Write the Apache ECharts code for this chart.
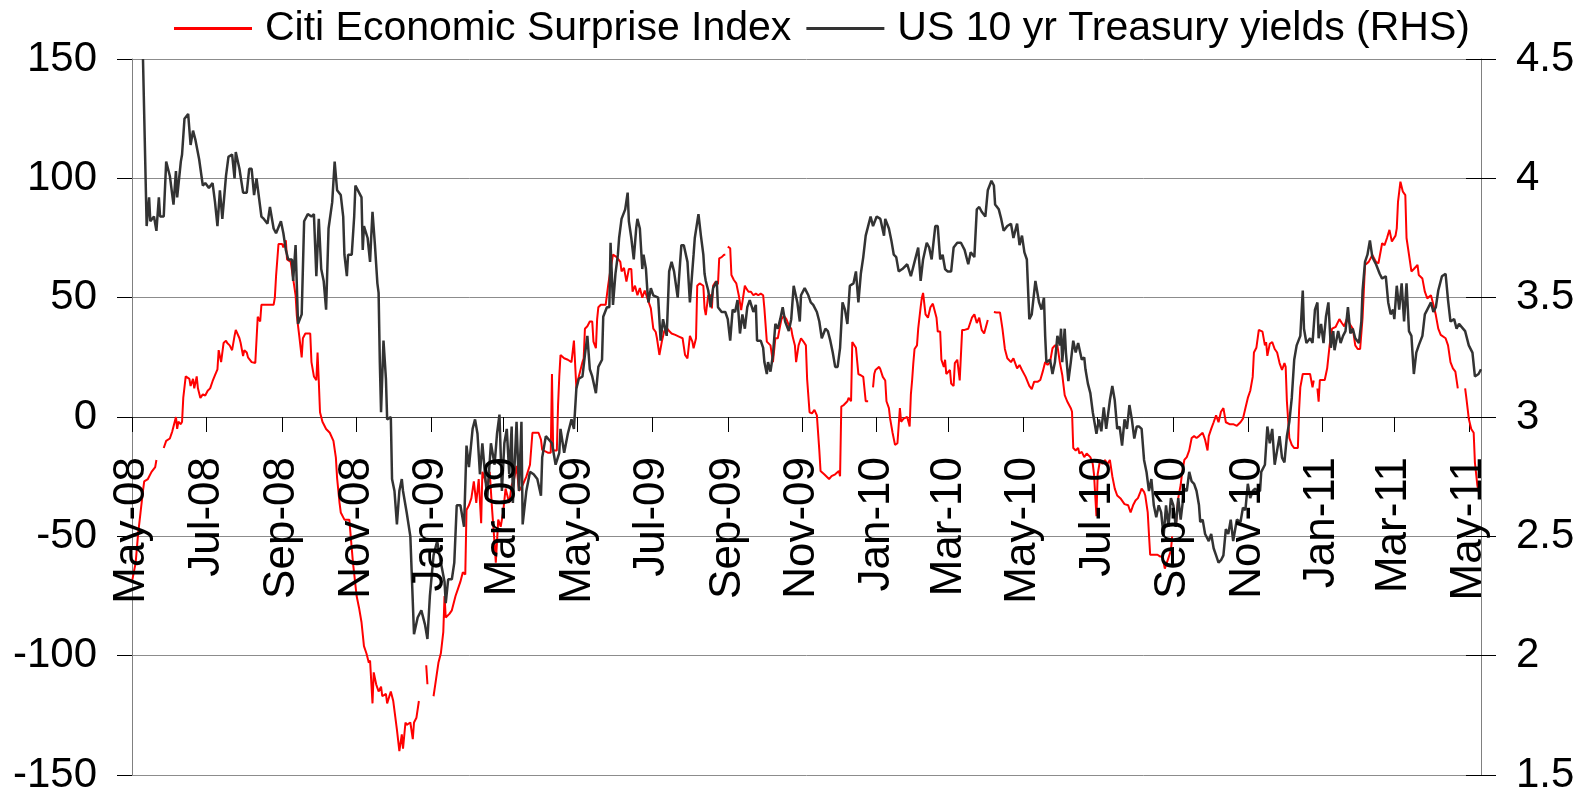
<!DOCTYPE html>
<html>
<head>
<meta charset="utf-8">
<script src="https://cdn.jsdelivr.net/npm/echarts@6.0.0/dist/echarts.min.js"></script>
<style>
  html, body { margin: 0; padding: 0; background: #fff; }
  #chart { width: 1588px; height: 796px; }
</style>
</head>
<body>
<div id="chart"></div>
<script>
var FONT = '"Liberation Sans", Arial, sans-serif';

// month names for tick labels (May-08, Jul-08 ...)
var monthNames = ['Jan', 'Feb', 'Mar', 'Apr', 'May', 'Jun', 'Jul', 'Aug', 'Sep', 'Oct', 'Nov', 'Dec'];
var firstDay = '2008-05-01';
var lastDay = '2011-05-11';

// Citi Economic Surprise Index (LHS), null = gap in the line
var citiData = [
  ['2008-05-01', -69], ['2008-05-04', -61], ['2008-05-06', -49], ['2008-05-08', -40], ['2008-05-10', -31],
  ['2008-05-11', -27], ['2008-05-14', -26], ['2008-05-17', -23], ['2008-05-20', -21], ['2008-05-21', -18],
  ['2008-05-23', null], ['2008-05-27', -13], ['2008-05-29', -10], ['2008-06-01', -9], ['2008-06-03', -6],
  ['2008-06-05', -2], ['2008-06-06', 0], ['2008-06-07', -5], ['2008-06-08', -2], ['2008-06-10', -3],
  ['2008-06-11', -2], ['2008-06-12', 8], ['2008-06-14', 17], ['2008-06-17', 16], ['2008-06-18', 13],
  ['2008-06-20', 16], ['2008-06-21', 12], ['2008-06-23', 17], ['2008-06-24', 12], ['2008-06-26', 8],
  ['2008-06-28', 9.5], ['2008-06-30', 9], ['2008-07-02', 11], ['2008-07-04', 12], ['2008-07-06', 15],
  ['2008-07-08', 17.5], ['2008-07-10', 20], ['2008-07-11', 28], ['2008-07-13', 23], ['2008-07-15', 31],
  ['2008-07-17', 32], ['2008-07-18', 31], ['2008-07-20', 30], ['2008-07-22', 28], ['2008-07-24', 34],
  ['2008-07-25', 36.5], ['2008-07-28', 33], ['2008-07-29', 31], ['2008-07-31', 25.5], ['2008-08-01', 28],
  ['2008-08-03', 27], ['2008-08-04', 25], ['2008-08-07', 23], ['2008-08-10', 22.6], ['2008-08-11', 22],
  ['2008-08-12', 42], ['2008-08-14', 40], ['2008-08-15', 47], ['2008-08-20', 47], ['2008-08-25', 47],
  ['2008-08-26', 50], ['2008-08-27', 59], ['2008-08-29', 72.5], ['2008-09-01', 72.5], ['2008-09-02', 71],
  ['2008-09-04', 74], ['2008-09-05', 66], ['2008-09-08', 65], ['2008-09-10', 58], ['2008-09-12', 51],
  ['2008-09-13', 42.5], ['2008-09-15', 34], ['2008-09-17', 25], ['2008-09-18', 33], ['2008-09-20', 35],
  ['2008-09-24', 35], ['2008-09-25', 23], ['2008-09-27', 17], ['2008-09-29', 15.4], ['2008-09-30', 27],
  ['2008-10-01', 15], ['2008-10-02', 2], ['2008-10-03', 1.5], ['2008-10-04', -2], ['2008-10-07', -5],
  ['2008-10-10', -6.6], ['2008-10-13', -10], ['2008-10-15', -17], ['2008-10-16', -25.6], ['2008-10-18', -36],
  ['2008-10-19', -40], ['2008-10-22', -43], ['2008-10-26', -43], ['2008-10-29', -61], ['2008-11-01', -75],
  ['2008-11-03', -80], ['2008-11-05', -86], ['2008-11-07', -96], ['2008-11-09', -99], ['2008-11-11', -103],
  ['2008-11-12', -102], ['2008-11-14', -120], ['2008-11-15', -107], ['2008-11-17', -112], ['2008-11-19', -115],
  ['2008-11-21', -113], ['2008-11-22', -117], ['2008-11-25', -116], ['2008-11-26', -120], ['2008-11-29', -115],
  ['2008-12-01', -119], ['2008-12-02', -119], ['2008-12-04', -131], ['2008-12-06', -140], ['2008-12-08', -133],
  ['2008-12-09', -139], ['2008-12-11', -128], ['2008-12-12', -129], ['2008-12-15', -128], ['2008-12-17', -135],
  ['2008-12-18', -128], ['2008-12-20', -126], ['2008-12-22', -119], ['2008-12-25', null], ['2008-12-28', -104],
  ['2008-12-29', -112], ['2008-12-31', null], ['2009-01-03', -117], ['2009-01-05', -110], ['2009-01-07', -103],
  ['2009-01-09', -99], ['2009-01-11', -90], ['2009-01-12', -75], ['2009-01-13', -84], ['2009-01-16', -82.5],
  ['2009-01-18', -81], ['2009-01-21', -75], ['2009-01-23', -72], ['2009-01-25', -69], ['2009-01-27', -65],
  ['2009-01-29', -66], ['2009-01-30', -39], ['2009-02-01', -37], ['2009-02-03', -34], ['2009-02-05', -27],
  ['2009-02-07', -36], ['2009-02-09', -26], ['2009-02-11', -44.5], ['2009-02-12', -23], ['2009-02-14', -26],
  ['2009-02-16', -30], ['2009-02-18', -23], ['2009-02-20', -39], ['2009-02-22', -53], ['2009-02-23', -61],
  ['2009-02-25', -43], ['2009-02-27', -46], ['2009-03-01', -40], ['2009-03-03', -30], ['2009-03-06', -36],
  ['2009-03-08', -28.5], ['2009-03-10', -26], ['2009-03-12', -20.5], ['2009-03-14', -31], ['2009-03-17', -28.5],
  ['2009-03-20', -25], ['2009-03-23', -20], ['2009-03-25', -6.6], ['2009-03-28', -6.6], ['2009-03-30', -6.6],
  ['2009-04-01', -9.5], ['2009-04-02', -13.8], ['2009-04-05', -14.5], ['2009-04-07', -15], ['2009-04-09', -15],
  ['2009-04-10', 18], ['2009-04-11', -14], ['2009-04-14', -14], ['2009-04-15', 5], ['2009-04-16', 17],
  ['2009-04-17', 26], ['2009-04-20', 24.6], ['2009-04-23', 24], ['2009-04-26', 23], ['2009-04-28', 32],
  ['2009-04-30', 12], ['2009-05-01', 15], ['2009-05-03', 19], ['2009-05-05', 23], ['2009-05-06', 24.6],
  ['2009-05-07', 37], ['2009-05-09', 38], ['2009-05-11', 40], ['2009-05-13', 40], ['2009-05-14', 31.6],
  ['2009-05-16', 28.8], ['2009-05-17', 41], ['2009-05-18', 46], ['2009-05-20', 47], ['2009-05-24', 47],
  ['2009-05-26', 55], ['2009-05-28', 62], ['2009-05-30', 68], ['2009-06-02', 67], ['2009-06-05', 65],
  ['2009-06-06', 61], ['2009-06-08', 62.5], ['2009-06-10', 56.7], ['2009-06-12', 62], ['2009-06-14', 62],
  ['2009-06-15', 52.5], ['2009-06-17', 55], ['2009-06-19', 51], ['2009-06-21', 54], ['2009-06-23', 50],
  ['2009-06-25', 53], ['2009-06-27', 50], ['2009-06-30', 45.5], ['2009-07-02', 37], ['2009-07-04', 35.6],
  ['2009-07-05', 33], ['2009-07-07', 26], ['2009-07-09', 31.6], ['2009-07-11', 36], ['2009-07-13', 37.4],
  ['2009-07-15', 36], ['2009-07-17', 35], ['2009-07-20', 34.4], ['2009-07-23', 33.7], ['2009-07-26', 33],
  ['2009-07-28', 26], ['2009-07-30', 24.6], ['2009-08-01', 34], ['2009-08-03', 31.6], ['2009-08-04', 28.8],
  ['2009-08-06', 33], ['2009-08-07', 55], ['2009-08-09', 56], ['2009-08-12', 55], ['2009-08-13', 45.5],
  ['2009-08-14', 42.7], ['2009-08-16', 51], ['2009-08-18', 51], ['2009-08-19', 45.5], ['2009-08-20', 55],
  ['2009-08-22', 56.7], ['2009-08-24', 55.6], ['2009-08-25', 66.5], ['2009-08-27', 67], ['2009-08-29', 68],
  ['2009-08-30', 68], ['2009-08-31', null], ['2009-09-01', 71.4], ['2009-09-03', 70.7], ['2009-09-04', 59.5],
  ['2009-09-06', 57.4], ['2009-09-08', 56], ['2009-09-10', 51], ['2009-09-12', 44.8], ['2009-09-13', 44.8],
  ['2009-09-15', 55], ['2009-09-16', 54], ['2009-09-18', 52.5], ['2009-09-20', 52.5], ['2009-09-22', 51],
  ['2009-09-24', 51.7], ['2009-09-26', 51], ['2009-09-28', 51.7], ['2009-09-30', 51], ['2009-10-01', 45.5],
  ['2009-10-03', 31.6], ['2009-10-04', 31.6], ['2009-10-06', 30], ['2009-10-08', 23], ['2009-10-10', 33],
  ['2009-10-12', 33], ['2009-10-14', 38.5], ['2009-10-15', 41], ['2009-10-17', 42.4], ['2009-10-19', 41],
  ['2009-10-21', 38.5], ['2009-10-23', 37], ['2009-10-24', 34], ['2009-10-26', 30], ['2009-10-27', 23],
  ['2009-10-29', 30], ['2009-10-31', 33], ['2009-11-02', 31.6], ['2009-11-04', 30], ['2009-11-05', 16],
  ['2009-11-07', 2], ['2009-11-09', 1.5], ['2009-11-11', 3], ['2009-11-13', 0.7], ['2009-11-15', -14],
  ['2009-11-16', -22.6], ['2009-11-19', -24], ['2009-11-23', -26], ['2009-11-25', -24.8], ['2009-11-28', -24],
  ['2009-12-01', -22.6], ['2009-12-02', -24.8], ['2009-12-03', 4.4], ['2009-12-05', 5], ['2009-12-08', 6.6],
  ['2009-12-09', 8], ['2009-12-11', 6.6], ['2009-12-12', 31.4], ['2009-12-15', 29], ['2009-12-16', 28.5],
  ['2009-12-17', 18], ['2009-12-19', 17.5], ['2009-12-20', 18], ['2009-12-21', 16.8], ['2009-12-23', 6.6],
  ['2009-12-24', 5.8], ['2009-12-25', 6.6], ['2009-12-27', null], ['2009-12-29', 12.4], ['2009-12-30', 18],
  ['2009-12-31', 19.7], ['2010-01-03', 21], ['2010-01-04', 20], ['2010-01-06', 16.8], ['2010-01-08', 15.3],
  ['2010-01-09', 6.6], ['2010-01-11', 3.7], ['2010-01-12', -0.7], ['2010-01-14', -6.6], ['2010-01-16', -11.7],
  ['2010-01-18', -11], ['2010-01-20', 3.7], ['2010-01-21', -2], ['2010-01-23', -0.7], ['2010-01-26', 0],
  ['2010-01-27', -0.7], ['2010-01-28', -4], ['2010-01-29', 9.5], ['2010-01-30', 15.3], ['2010-01-31', 22.6],
  ['2010-02-01', 28.5], ['2010-02-03', 30], ['2010-02-04', 37], ['2010-02-06', 46], ['2010-02-07', 50],
  ['2010-02-08', 52], ['2010-02-10', 43], ['2010-02-12', 41.6], ['2010-02-14', 46], ['2010-02-16', 47.5],
  ['2010-02-19', 41.6], ['2010-02-20', 35.8], ['2010-02-22', 35.8], ['2010-02-23', 24], ['2010-02-25', 21],
  ['2010-02-26', 24], ['2010-02-27', 18], ['2010-03-02', 19.7], ['2010-03-03', 14], ['2010-03-05', 13],
  ['2010-03-06', 22.6], ['2010-03-08', 24], ['2010-03-10', 15.3], ['2010-03-12', 36.5], ['2010-03-14', 36.5],
  ['2010-03-17', 37], ['2010-03-20', 41.6], ['2010-03-22', 43], ['2010-03-24', 39.4], ['2010-03-26', 41.6],
  ['2010-03-28', 36.5], ['2010-03-30', 35], ['2010-03-31', 35.8], ['2010-04-02', 40.6], ['2010-04-04', null],
  ['2010-04-07', 44], ['2010-04-09', 43.8], ['2010-04-12', 43.8], ['2010-04-14', 37], ['2010-04-16', 28.5],
  ['2010-04-18', 24.6], ['2010-04-21', 23], ['2010-04-23', 24.6], ['2010-04-26', 20.4], ['2010-04-28', 21.8],
  ['2010-04-30', 19.7], ['2010-05-03', 16.8], ['2010-05-06', 13], ['2010-05-08', 11.7], ['2010-05-10', 14.8],
  ['2010-05-13', 14.8], ['2010-05-15', 15.5], ['2010-05-17', 19], ['2010-05-19', 23], ['2010-05-21', 21.8],
  ['2010-05-23', 23], ['2010-05-25', 28.8], ['2010-05-27', 30], ['2010-05-29', 30], ['2010-05-31', 23],
  ['2010-06-02', 17.6], ['2010-06-04', 9.2], ['2010-06-06', 6.6], ['2010-06-09', 3.7], ['2010-06-10', 2.2],
  ['2010-06-11', -13], ['2010-06-13', -14], ['2010-06-15', -13], ['2010-06-16', -15.3], ['2010-06-18', -14.6],
  ['2010-06-20', -16.8], ['2010-06-22', -15.3], ['2010-06-25', -16.8], ['2010-06-27', -19.7], ['2010-06-28', -24],
  ['2010-06-30', -41.6], ['2010-07-01', -24], ['2010-07-03', -18], ['2010-07-05', -19.7], ['2010-07-07', -18],
  ['2010-07-09', -19.7], ['2010-07-11', -18], ['2010-07-13', -24.8], ['2010-07-15', -30], ['2010-07-17', -32.9],
  ['2010-07-20', -34.3], ['2010-07-23', -36.5], ['2010-07-26', -37], ['2010-07-28', -40], ['2010-07-30', -37],
  ['2010-08-01', -35], ['2010-08-03', -34], ['2010-08-05', -31.4], ['2010-08-06', -30], ['2010-08-08', -31.4],
  ['2010-08-09', -32.9], ['2010-08-11', -40], ['2010-08-12', -49], ['2010-08-13', -57.7], ['2010-08-16', -57.7],
  ['2010-08-19', -57.7], ['2010-08-21', -58.4], ['2010-08-23', -58.4], ['2010-08-25', -63.5], ['2010-08-26', -62.8],
  ['2010-08-28', -59], ['2010-08-30', -56], ['2010-08-31', -50], ['2010-09-02', null], ['2010-09-03', -46],
  ['2010-09-04', -40], ['2010-09-05', -34], ['2010-09-07', -28.5], ['2010-09-08', -24], ['2010-09-10', -18],
  ['2010-09-12', -16.8], ['2010-09-14', -14], ['2010-09-16', -8.8], ['2010-09-18', -8], ['2010-09-20', -8.8],
  ['2010-09-22', -8], ['2010-09-23', -8.8], ['2010-09-25', -6.6], ['2010-09-27', -9.5], ['2010-09-29', -14],
  ['2010-09-30', -8], ['2010-10-02', -5], ['2010-10-04', -2.2], ['2010-10-06', 0.7], ['2010-10-08', -2.2],
  ['2010-10-10', 2.2], ['2010-10-12', 3.7], ['2010-10-14', -2.2], ['2010-10-17', -3], ['2010-10-20', -3],
  ['2010-10-23', -3.7], ['2010-10-26', -2.2], ['2010-10-28', -0.7], ['2010-10-30', 3.7], ['2010-11-01', 8],
  ['2010-11-03', 11], ['2010-11-05', 16.8], ['2010-11-06', 27], ['2010-11-08', 29], ['2010-11-10', 36.5],
  ['2010-11-13', 35.8], ['2010-11-15', 30], ['2010-11-16', 31.4], ['2010-11-17', 25.6], ['2010-11-19', 30.7],
  ['2010-11-21', 31.4], ['2010-11-23', 28.5], ['2010-11-25', 27], ['2010-11-27', 22.6], ['2010-11-29', 19.7],
  ['2010-12-01', 22.6], ['2010-12-02', 21], ['2010-12-03', 6.6], ['2010-12-05', -8.8], ['2010-12-07', -11.7],
  ['2010-12-09', -13], ['2010-12-12', -13], ['2010-12-13', 3], ['2010-12-14', 12.4], ['2010-12-16', 18],
  ['2010-12-19', 18], ['2010-12-22', 18], ['2010-12-24', 12.4], ['2010-12-25', 15.3], ['2010-12-27', null],
  ['2010-12-28', 12], ['2010-12-29', 6.4], ['2010-12-30', 15.5], ['2011-01-03', 15.5], ['2011-01-05', 20.4],
  ['2011-01-07', 30], ['2011-01-09', 37], ['2011-01-12', 37.8], ['2011-01-15', 41], ['2011-01-17', 39.4],
  ['2011-01-19', 38], ['2011-01-21', 41], ['2011-01-23', 39.4], ['2011-01-26', 37], ['2011-01-28', 30],
  ['2011-01-30', 28.5], ['2011-02-01', 28.5], ['2011-02-03', 41.6], ['2011-02-05', 63.7], ['2011-02-08', 65],
  ['2011-02-11', 67.9], ['2011-02-14', 65], ['2011-02-16', 64.4], ['2011-02-19', 72.8], ['2011-02-21', 72],
  ['2011-02-23', 75], ['2011-02-25', 78.4], ['2011-02-27', 73.5], ['2011-03-02', 76], ['2011-03-03', 79],
  ['2011-03-04', 90], ['2011-03-06', 98.6], ['2011-03-08', 94.4], ['2011-03-10', 93], ['2011-03-11', 75],
  ['2011-03-13', 68], ['2011-03-15', 61], ['2011-03-17', 62], ['2011-03-20', 63.7], ['2011-03-21', 59.5],
  ['2011-03-24', 58], ['2011-03-26', 52.5], ['2011-03-28', 49.7], ['2011-03-31', 51], ['2011-04-02', 47],
  ['2011-04-04', 42.7], ['2011-04-06', 37], ['2011-04-08', 34.4], ['2011-04-12', 33], ['2011-04-14', 30],
  ['2011-04-16', 23], ['2011-04-18', 20.4], ['2011-04-20', 19], ['2011-04-22', 12], ['2011-04-25', null],
  ['2011-04-28', 12], ['2011-04-29', 8], ['2011-05-01', -0.7], ['2011-05-03', -5], ['2011-05-05', -6.6],
  ['2011-05-06', -19], ['2011-05-08', -28.5], ['2011-05-09', -31.4], ['2011-05-10', -31.4]
];

// US 10 yr Treasury yields, % (RHS)
var yieldData = [
  ['2008-05-10', 4.50], ['2008-05-13', 3.80], ['2008-05-15', 3.92], ['2008-05-16', 3.82], ['2008-05-19', 3.84],
  ['2008-05-21', 3.78], ['2008-05-23', 3.92], ['2008-05-24', 3.84], ['2008-05-27', 3.84], ['2008-05-29', 4.07],
  ['2008-06-01', 4.01], ['2008-06-04', 3.89], ['2008-06-06', 4.03], ['2008-06-07', 3.92], ['2008-06-10', 4.07],
  ['2008-06-11', 4.10], ['2008-06-13', 4.25], ['2008-06-16', 4.27], ['2008-06-18', 4.14], ['2008-06-20', 4.20],
  ['2008-06-22', 4.16], ['2008-06-25', 4.08], ['2008-06-28', 3.97], ['2008-06-30', 3.98], ['2008-07-03', 3.96],
  ['2008-07-06', 3.98], ['2008-07-08', 3.90], ['2008-07-10', 3.80], ['2008-07-12', 3.95], ['2008-07-14', 3.83],
  ['2008-07-17', 4.01], ['2008-07-19', 4.09], ['2008-07-22', 4.10], ['2008-07-24', 4.00], ['2008-07-25', 4.11],
  ['2008-07-28', 4.04], ['2008-07-31', 3.94], ['2008-08-03', 3.94], ['2008-08-05', 4.04], ['2008-08-07', 4.04],
  ['2008-08-09', 3.93], ['2008-08-11', 4.00], ['2008-08-13', 3.92], ['2008-08-15', 3.84], ['2008-08-17', 3.83],
  ['2008-08-20', 3.81], ['2008-08-22', 3.88], ['2008-08-25', 3.79], ['2008-08-27', 3.77], ['2008-08-31', 3.82],
  ['2008-09-02', 3.77], ['2008-09-04', 3.70], ['2008-09-06', 3.66], ['2008-09-09', 3.66], ['2008-09-10', 3.57],
  ['2008-09-12', 3.72], ['2008-09-14', 3.39], ['2008-09-17', 3.43], ['2008-09-19', 3.82], ['2008-09-22', 3.85],
  ['2008-09-25', 3.84], ['2008-09-27', 3.85], ['2008-09-29', 3.59], ['2008-10-01', 3.83], ['2008-10-03', 3.62],
  ['2008-10-05', 3.57], ['2008-10-07', 3.45], ['2008-10-09', 3.79], ['2008-10-12', 3.90], ['2008-10-14', 4.07],
  ['2008-10-16', 3.95], ['2008-10-19', 3.93], ['2008-10-21', 3.84], ['2008-10-22', 3.68], ['2008-10-24', 3.59],
  ['2008-10-25', 3.68], ['2008-10-28', 3.68], ['2008-10-30', 3.84], ['2008-10-31', 3.97], ['2008-11-03', 3.94],
  ['2008-11-05', 3.92], ['2008-11-06', 3.70], ['2008-11-07', 3.80], ['2008-11-10', 3.75], ['2008-11-12', 3.65],
  ['2008-11-13', 3.76], ['2008-11-14', 3.86], ['2008-11-16', 3.72], ['2008-11-18', 3.56], ['2008-11-19', 3.52],
  ['2008-11-20', 3.23], ['2008-11-21', 3.02], ['2008-11-23', 3.32], ['2008-11-25', 3.16], ['2008-11-26', 2.99],
  ['2008-11-29', 3.00], ['2008-11-30', 2.74], ['2008-12-02', 2.69], ['2008-12-04', 2.55], ['2008-12-06', 2.69],
  ['2008-12-08', 2.74], ['2008-12-09', 2.69], ['2008-12-12', 2.60], ['2008-12-15', 2.50], ['2008-12-18', 2.09],
  ['2008-12-21', 2.16], ['2008-12-24', 2.19], ['2008-12-27', 2.13], ['2008-12-29', 2.07], ['2008-12-31', 2.25],
  ['2009-01-03', 2.42], ['2009-01-06', 2.48], ['2009-01-09', 2.39], ['2009-01-12', 2.31], ['2009-01-13', 2.22],
  ['2009-01-15', 2.32], ['2009-01-18', 2.32], ['2009-01-20', 2.39], ['2009-01-22', 2.63], ['2009-01-25', 2.63],
  ['2009-01-28', 2.54], ['2009-01-30', 2.88], ['2009-02-01', 2.79], ['2009-02-04', 2.95], ['2009-02-06', 2.99],
  ['2009-02-08', 2.93], ['2009-02-10', 2.76], ['2009-02-12', 2.89], ['2009-02-14', 2.77], ['2009-02-16', 2.66],
  ['2009-02-19', 2.89], ['2009-02-22', 2.80], ['2009-02-24', 2.93], ['2009-02-26', 3.01], ['2009-02-28', 2.69],
  ['2009-03-02', 2.89], ['2009-03-04', 2.95], ['2009-03-06', 2.76], ['2009-03-08', 2.96], ['2009-03-09', 2.64],
  ['2009-03-12', 2.98], ['2009-03-14', 2.69], ['2009-03-16', 2.98], ['2009-03-17', 2.55], ['2009-03-20', 2.69],
  ['2009-03-23', 2.77], ['2009-03-26', 2.76], ['2009-03-29', 2.74], ['2009-04-01', 2.67], ['2009-04-02', 2.83],
  ['2009-04-05', 2.92], ['2009-04-10', 2.89], ['2009-04-13', 2.80], ['2009-04-16', 2.85], ['2009-04-17', 2.95],
  ['2009-04-20', 2.85], ['2009-04-23', 2.93], ['2009-04-26', 2.99], ['2009-04-28', 2.95], ['2009-04-30', 3.12],
  ['2009-05-02', 3.16], ['2009-05-05', 3.17], ['2009-05-07', 3.26], ['2009-05-09', 3.34], ['2009-05-11', 3.20],
  ['2009-05-13', 3.17], ['2009-05-16', 3.10], ['2009-05-18', 3.21], ['2009-05-21', 3.24], ['2009-05-22', 3.42],
  ['2009-05-25', 3.46], ['2009-05-27', 3.46], ['2009-05-28', 3.73], ['2009-05-30', 3.47], ['2009-06-01', 3.60],
  ['2009-06-03', 3.68], ['2009-06-04', 3.75], ['2009-06-06', 3.83], ['2009-06-09', 3.87], ['2009-06-11', 3.94],
  ['2009-06-12', 3.82], ['2009-06-14', 3.75], ['2009-06-16', 3.66], ['2009-06-18', 3.79], ['2009-06-19', 3.83],
  ['2009-06-21', 3.79], ['2009-06-23', 3.62], ['2009-06-24', 3.68], ['2009-06-26', 3.62], ['2009-06-27', 3.54],
  ['2009-06-28', 3.48], ['2009-06-30', 3.54], ['2009-07-02', 3.51], ['2009-07-06', 3.50], ['2009-07-08', 3.32],
  ['2009-07-10', 3.41], ['2009-07-13', 3.34], ['2009-07-15', 3.61], ['2009-07-17', 3.65], ['2009-07-19', 3.61],
  ['2009-07-22', 3.50], ['2009-07-24', 3.65], ['2009-07-25', 3.72], ['2009-07-27', 3.72], ['2009-07-30', 3.65],
  ['2009-08-01', 3.48], ['2009-08-04', 3.68], ['2009-08-05', 3.75], ['2009-08-08', 3.85], ['2009-08-10', 3.76],
  ['2009-08-12', 3.68], ['2009-08-13', 3.60], ['2009-08-14', 3.57], ['2009-08-16', 3.53], ['2009-08-18', 3.46],
  ['2009-08-20', 3.54], ['2009-08-23', 3.57], ['2009-08-24', 3.46], ['2009-08-27', 3.44], ['2009-08-30', 3.44],
  ['2009-09-01', 3.41], ['2009-09-03', 3.32], ['2009-09-05', 3.45], ['2009-09-07', 3.44], ['2009-09-09', 3.49],
  ['2009-09-11', 3.35], ['2009-09-13', 3.43], ['2009-09-15', 3.37], ['2009-09-17', 3.46], ['2009-09-19', 3.49],
  ['2009-09-22', 3.44], ['2009-09-24', 3.47], ['2009-09-25', 3.32], ['2009-09-28', 3.32], ['2009-09-30', 3.29],
  ['2009-10-01', 3.23], ['2009-10-03', 3.18], ['2009-10-04', 3.23], ['2009-10-06', 3.19], ['2009-10-08', 3.26],
  ['2009-10-10', 3.39], ['2009-10-12', 3.37], ['2009-10-14', 3.41], ['2009-10-16', 3.46], ['2009-10-18', 3.40],
  ['2009-10-21', 3.36], ['2009-10-23', 3.41], ['2009-10-25', 3.55], ['2009-10-28', 3.48], ['2009-10-30', 3.40],
  ['2009-10-31', 3.51], ['2009-11-03', 3.54], ['2009-11-05', 3.52], ['2009-11-06', 3.51], ['2009-11-08', 3.48],
  ['2009-11-10', 3.47], ['2009-11-13', 3.44], ['2009-11-15', 3.40], ['2009-11-17', 3.33], ['2009-11-20', 3.37],
  ['2009-11-22', 3.36], ['2009-11-24', 3.32], ['2009-11-26', 3.27], ['2009-11-28', 3.21], ['2009-11-30', 3.21],
  ['2009-12-02', 3.29], ['2009-12-04', 3.48], ['2009-12-06', 3.45], ['2009-12-08', 3.39], ['2009-12-10', 3.55],
  ['2009-12-13', 3.56], ['2009-12-15', 3.61], ['2009-12-17', 3.48], ['2009-12-19', 3.60], ['2009-12-21', 3.67],
  ['2009-12-23', 3.76], ['2009-12-25', 3.80], ['2009-12-27', 3.84], ['2009-12-29', 3.80], ['2010-01-01', 3.84],
  ['2010-01-04', 3.83], ['2010-01-07', 3.76], ['2010-01-08', 3.83], ['2010-01-11', 3.79], ['2010-01-13', 3.74],
  ['2010-01-15', 3.68], ['2010-01-17', 3.67], ['2010-01-19', 3.61], ['2010-01-22', 3.62], ['2010-01-26', 3.64],
  ['2010-01-29', 3.59], ['2010-02-01', 3.65], ['2010-02-04', 3.71], ['2010-02-06', 3.57], ['2010-02-08', 3.66],
  ['2010-02-11', 3.73], ['2010-02-13', 3.71], ['2010-02-15', 3.66], ['2010-02-18', 3.80], ['2010-02-20', 3.80],
  ['2010-02-22', 3.66], ['2010-02-24', 3.68], ['2010-02-26', 3.62], ['2010-02-28', 3.61], ['2010-03-03', 3.61],
  ['2010-03-05', 3.71], ['2010-03-08', 3.73], ['2010-03-11', 3.73], ['2010-03-14', 3.70], ['2010-03-17', 3.64],
  ['2010-03-19', 3.69], ['2010-03-22', 3.67], ['2010-03-24', 3.87], ['2010-03-26', 3.88], ['2010-03-28', 3.86],
  ['2010-03-31', 3.84], ['2010-04-02', 3.95], ['2010-04-05', 3.99], ['2010-04-07', 3.97], ['2010-04-08', 3.89],
  ['2010-04-11', 3.87], ['2010-04-13', 3.83], ['2010-04-15', 3.78], ['2010-04-18', 3.80], ['2010-04-21', 3.81],
  ['2010-04-23', 3.75], ['2010-04-26', 3.81], ['2010-04-28', 3.72], ['2010-04-30', 3.76], ['2010-05-02', 3.69],
  ['2010-05-04', 3.66], ['2010-05-06', 3.41], ['2010-05-08', 3.43], ['2010-05-11', 3.57], ['2010-05-14', 3.48],
  ['2010-05-16', 3.45], ['2010-05-18', 3.50], ['2010-05-19', 3.34], ['2010-05-20', 3.23], ['2010-05-23', 3.24],
  ['2010-05-25', 3.18], ['2010-05-27', 3.23], ['2010-05-29', 3.34], ['2010-05-31', 3.30], ['2010-06-01', 3.37],
  ['2010-06-02', 3.23], ['2010-06-04', 3.37], ['2010-06-05', 3.27], ['2010-06-07', 3.15], ['2010-06-09', 3.23],
  ['2010-06-11', 3.32], ['2010-06-13', 3.27], ['2010-06-15', 3.31], ['2010-06-18', 3.24], ['2010-06-20', 3.25],
  ['2010-06-21', 3.20], ['2010-06-23', 3.14], ['2010-06-25', 3.10], ['2010-06-27', 3.02], ['2010-06-30', 2.93],
  ['2010-07-02', 2.99], ['2010-07-04', 2.94], ['2010-07-06', 3.04], ['2010-07-08', 2.95], ['2010-07-11', 3.07],
  ['2010-07-13', 3.13], ['2010-07-15', 3.07], ['2010-07-17', 2.95], ['2010-07-19', 2.96], ['2010-07-21', 2.88],
  ['2010-07-23', 2.99], ['2010-07-25', 2.95], ['2010-07-27', 3.05], ['2010-07-29', 2.99], ['2010-07-31', 2.91],
  ['2010-08-02', 2.96], ['2010-08-04', 2.96], ['2010-08-06', 2.95], ['2010-08-08', 2.82], ['2010-08-10', 2.77],
  ['2010-08-12', 2.69], ['2010-08-14', 2.74], ['2010-08-16', 2.63], ['2010-08-18', 2.58], ['2010-08-20', 2.63],
  ['2010-08-22', 2.60], ['2010-08-24', 2.50], ['2010-08-26', 2.63], ['2010-08-28', 2.54], ['2010-08-30', 2.66],
  ['2010-09-01', 2.63], ['2010-09-03', 2.54], ['2010-09-05', 2.66], ['2010-09-07', 2.57], ['2010-09-10', 2.70],
  ['2010-09-12', 2.69], ['2010-09-14', 2.77], ['2010-09-16', 2.73], ['2010-09-18', 2.72], ['2010-09-20', 2.69],
  ['2010-09-22', 2.63], ['2010-09-23', 2.56], ['2010-09-25', 2.57], ['2010-09-27', 2.51], ['2010-09-30', 2.48],
  ['2010-10-02', 2.51], ['2010-10-04', 2.45], ['2010-10-06', 2.42], ['2010-10-08', 2.39], ['2010-10-10', 2.40],
  ['2010-10-12', 2.42], ['2010-10-14', 2.53], ['2010-10-16', 2.51], ['2010-10-18', 2.57], ['2010-10-20', 2.48],
  ['2010-10-22', 2.54], ['2010-10-23', 2.57], ['2010-10-26', 2.56], ['2010-10-28', 2.62], ['2010-10-30', 2.61],
  ['2010-11-01', 2.72], ['2010-11-03', 2.66], ['2010-11-05', 2.69], ['2010-11-07', 2.70], ['2010-11-09', 2.69],
  ['2010-11-11', 2.69], ['2010-11-12', 2.77], ['2010-11-15', 2.80], ['2010-11-17', 2.96], ['2010-11-19', 2.89],
  ['2010-11-21', 2.95], ['2010-11-23', 2.80], ['2010-11-25', 2.86], ['2010-11-27', 2.92], ['2010-11-29', 2.83],
  ['2010-12-01', 2.81], ['2010-12-03', 2.92], ['2010-12-05', 2.98], ['2010-12-07', 3.08], ['2010-12-09', 3.24],
  ['2010-12-11', 3.30], ['2010-12-14', 3.34], ['2010-12-16', 3.53], ['2010-12-17', 3.37], ['2010-12-19', 3.31],
  ['2010-12-22', 3.33], ['2010-12-24', 3.31], ['2010-12-26', 3.45], ['2010-12-28', 3.48], ['2010-12-29', 3.33],
  ['2010-12-31', 3.39], ['2011-01-02', 3.31], ['2011-01-04', 3.42], ['2011-01-06', 3.48], ['2011-01-08', 3.29],
  ['2011-01-10', 3.36], ['2011-01-11', 3.28], ['2011-01-14', 3.36], ['2011-01-16', 3.31], ['2011-01-18', 3.34],
  ['2011-01-20', 3.36], ['2011-01-22', 3.46], ['2011-01-24', 3.35], ['2011-01-26', 3.37], ['2011-01-28', 3.33],
  ['2011-01-31', 3.31], ['2011-02-02', 3.40], ['2011-02-03', 3.53], ['2011-02-05', 3.65], ['2011-02-07', 3.68],
  ['2011-02-09', 3.74], ['2011-02-11', 3.67], ['2011-02-14', 3.64], ['2011-02-17', 3.60], ['2011-02-19', 3.58],
  ['2011-02-22', 3.59], ['2011-02-24', 3.48], ['2011-02-26', 3.43], ['2011-02-28', 3.45], ['2011-03-01', 3.41],
  ['2011-03-03', 3.55], ['2011-03-05', 3.45], ['2011-03-07', 3.56], ['2011-03-09', 3.40], ['2011-03-11', 3.56],
  ['2011-03-13', 3.36], ['2011-03-15', 3.34], ['2011-03-17', 3.18], ['2011-03-19', 3.27], ['2011-03-21', 3.30],
  ['2011-03-24', 3.34], ['2011-03-26', 3.43], ['2011-03-28', 3.45], ['2011-03-31', 3.48], ['2011-04-02', 3.44],
  ['2011-04-04', 3.46], ['2011-04-06', 3.53], ['2011-04-09', 3.59], ['2011-04-12', 3.60], ['2011-04-13', 3.60],
  ['2011-04-14', 3.49], ['2011-04-16', 3.40], ['2011-04-19', 3.41], ['2011-04-21', 3.37], ['2011-04-23', 3.39],
  ['2011-04-28', 3.36], ['2011-05-01', 3.30], ['2011-05-04', 3.27], ['2011-05-06', 3.17], ['2011-05-09', 3.18],
  ['2011-05-11', 3.20]
];

// one category per calendar day (date axis)
var days = [];
var t0 = Date.parse(firstDay + 'T00:00:00Z');
var t1 = Date.parse(lastDay + 'T00:00:00Z');
for (var t = t0; t <= t1; t += 86400000) {
  days.push(new Date(t).toISOString().slice(0, 10));
}
var dayIndex = {};
days.forEach(function (d, i) { dayIndex[d] = i; });

function toSeries(list) {
  return list
    .map(function (p) { return [dayIndex[p[0]], p[1] === null ? '-' : p[1]]; })
    .sort(function (a, b) { return a[0] - b[0]; });
}

// tick + label on the 1st of every other month (Jan, Mar, May, Jul, Sep, Nov)
function isTickDay(index, value) {
  return String(value).slice(8) === '01' && (+String(value).slice(5, 7)) % 2 === 1;
}
function monthLabel(d) {
  return monthNames[+d.slice(5, 7) - 1] + '-' + d.slice(2, 4);
}

var chartDom = document.getElementById('chart');
var myChart = echarts.init(chartDom, null, { renderer: 'canvas' });
var option;

option = {
  animation: false,
  backgroundColor: '#fff',
  textStyle: { fontFamily: FONT },
  legend: {
    left: 174,
    top: 8,
    padding: 0,
    itemWidth: 78,
    itemHeight: 3,
    itemGap: 15,
    icon: 'rect',
    textStyle: {
      fontFamily: FONT,
      fontSize: 41,
      lineHeight: 41,
      color: '#000',
      padding: [0, 0, 0, 8]
    },
    data: ['Citi Economic Surprise Index', 'US 10 yr Treasury yields (RHS)']
  },
  grid: {
    left: 132,
    right: 107,
    top: 59,
    bottom: 21,
    containLabel: false,
    outerBoundsMode: 'none'
  },
  xAxis: {
    type: 'category',
    data: days,
    boundaryGap: false,
    axisLine: {
      onZero: true,
      onZeroAxisIndex: 0,
      lineStyle: { color: '#404040', width: 1 }
    },
    axisTick: {
      interval: isTickDay,
      length: 15,
      lineStyle: { color: '#000' }
    },
    // month labels are added below as rotated text at the tick positions
    axisLabel: { show: false },
    splitLine: { show: false }
  },
  yAxis: [
    {
      type: 'value',
      position: 'left',
      min: -150,
      max: 150,
      interval: 50,
      axisLine: { show: true, lineStyle: { color: '#808080' } },
      axisTick: { show: true, length: 15, lineStyle: { color: '#000' } },
      axisLabel: { margin: 35, fontSize: 42, color: '#000', fontFamily: FONT },
      splitLine: { show: true, lineStyle: { color: '#8c8c8c', width: 1 } }
    },
    {
      type: 'value',
      position: 'right',
      min: 1.5,
      max: 4.5,
      interval: 0.5,
      axisLine: { show: true, lineStyle: { color: '#808080' } },
      axisTick: { show: true, length: 15, lineStyle: { color: '#000' } },
      axisLabel: { margin: 35, fontSize: 42, color: '#000', fontFamily: FONT },
      splitLine: { show: false }
    },
    {
      // inner half of the cross tick marks on the right axis
      type: 'value',
      position: 'right',
      min: 1.5,
      max: 4.5,
      interval: 0.5,
      axisLine: { show: false },
      axisTick: { show: true, inside: true, length: 15, lineStyle: { color: '#000' } },
      axisLabel: { show: false },
      splitLine: { show: false }
    }
  ],
  series: [
    {
      name: 'Citi Economic Surprise Index',
      type: 'line',
      yAxisIndex: 0,
      data: toSeries(citiData),
      showSymbol: false,
      symbol: 'none',
      connectNulls: false,
      color: '#ff0000',
      lineStyle: { color: '#ff0000', width: 2 }
    },
    {
      name: 'US 10 yr Treasury yields (RHS)',
      type: 'line',
      yAxisIndex: 1,
      data: toSeries(yieldData),
      showSymbol: false,
      symbol: 'none',
      color: '#333333',
      lineStyle: { color: '#333333', width: 2.5 }
    }
  ]
};

option && myChart.setOption(option);

// rotated month labels hanging under the zero line, placed through the axis scales
var zeroY = myChart.convertToPixel({ yAxisIndex: 0 }, 0);
var monthTexts = [];
days.forEach(function (d, i) {
  if (!isTickDay(i, d)) return;
  monthTexts.push({
    type: 'text',
    x: myChart.convertToPixel({ xAxisIndex: 0 }, i),
    y: zeroY + 40,
    rotation: Math.PI / 2,
    silent: true,
    z: 10,
    style: {
      text: monthLabel(d),
      fill: '#000',
      font: '44px ' + FONT,
      align: 'right',
      verticalAlign: 'middle'
    }
  });
});
myChart.setOption({ graphic: monthTexts });
</script>
</body>
</html>
